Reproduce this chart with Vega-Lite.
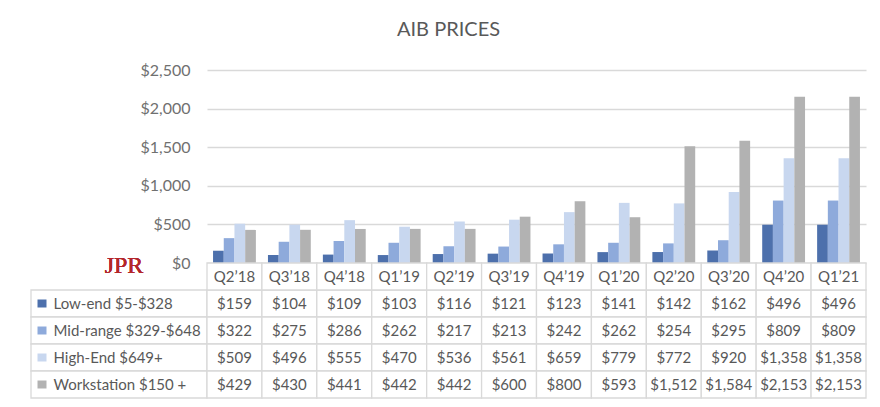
{
  "$schema": "https://vega.github.io/schema/vega-lite/v6.json",
  "padding": {"left": 30, "top": 20, "right": 10, "bottom": 5},
  "title": {
    "text": "AIB PRICES",
    "font": "Lato",
    "fontSize": 20,
    "fontWeight": "normal",
    "color": "#595959",
    "anchor": "middle",
    "offset": 22
  },
  "datasets": {
    "prices": [
      {"quarter": "Q2’18", "series": "Low-end $5-$328", "price": 159},
      {"quarter": "Q3’18", "series": "Low-end $5-$328", "price": 104},
      {"quarter": "Q4’18", "series": "Low-end $5-$328", "price": 109},
      {"quarter": "Q1’19", "series": "Low-end $5-$328", "price": 103},
      {"quarter": "Q2’19", "series": "Low-end $5-$328", "price": 116},
      {"quarter": "Q3’19", "series": "Low-end $5-$328", "price": 121},
      {"quarter": "Q4’19", "series": "Low-end $5-$328", "price": 123},
      {"quarter": "Q1’20", "series": "Low-end $5-$328", "price": 141},
      {"quarter": "Q2’20", "series": "Low-end $5-$328", "price": 142},
      {"quarter": "Q3’20", "series": "Low-end $5-$328", "price": 162},
      {"quarter": "Q4’20", "series": "Low-end $5-$328", "price": 496},
      {"quarter": "Q1’21", "series": "Low-end $5-$328", "price": 496},
      {"quarter": "Q2’18", "series": "Mid-range $329-$648", "price": 322},
      {"quarter": "Q3’18", "series": "Mid-range $329-$648", "price": 275},
      {"quarter": "Q4’18", "series": "Mid-range $329-$648", "price": 286},
      {"quarter": "Q1’19", "series": "Mid-range $329-$648", "price": 262},
      {"quarter": "Q2’19", "series": "Mid-range $329-$648", "price": 217},
      {"quarter": "Q3’19", "series": "Mid-range $329-$648", "price": 213},
      {"quarter": "Q4’19", "series": "Mid-range $329-$648", "price": 242},
      {"quarter": "Q1’20", "series": "Mid-range $329-$648", "price": 262},
      {"quarter": "Q2’20", "series": "Mid-range $329-$648", "price": 254},
      {"quarter": "Q3’20", "series": "Mid-range $329-$648", "price": 295},
      {"quarter": "Q4’20", "series": "Mid-range $329-$648", "price": 809},
      {"quarter": "Q1’21", "series": "Mid-range $329-$648", "price": 809},
      {"quarter": "Q2’18", "series": "High-End $649+", "price": 509},
      {"quarter": "Q3’18", "series": "High-End $649+", "price": 496},
      {"quarter": "Q4’18", "series": "High-End $649+", "price": 555},
      {"quarter": "Q1’19", "series": "High-End $649+", "price": 470},
      {"quarter": "Q2’19", "series": "High-End $649+", "price": 536},
      {"quarter": "Q3’19", "series": "High-End $649+", "price": 561},
      {"quarter": "Q4’19", "series": "High-End $649+", "price": 659},
      {"quarter": "Q1’20", "series": "High-End $649+", "price": 779},
      {"quarter": "Q2’20", "series": "High-End $649+", "price": 772},
      {"quarter": "Q3’20", "series": "High-End $649+", "price": 920},
      {"quarter": "Q4’20", "series": "High-End $649+", "price": 1358},
      {"quarter": "Q1’21", "series": "High-End $649+", "price": 1358},
      {"quarter": "Q2’18", "series": "Workstation $150 +", "price": 429},
      {"quarter": "Q3’18", "series": "Workstation $150 +", "price": 430},
      {"quarter": "Q4’18", "series": "Workstation $150 +", "price": 441},
      {"quarter": "Q1’19", "series": "Workstation $150 +", "price": 442},
      {"quarter": "Q2’19", "series": "Workstation $150 +", "price": 442},
      {"quarter": "Q3’19", "series": "Workstation $150 +", "price": 600},
      {"quarter": "Q4’19", "series": "Workstation $150 +", "price": 800},
      {"quarter": "Q1’20", "series": "Workstation $150 +", "price": 593},
      {"quarter": "Q2’20", "series": "Workstation $150 +", "price": 1512},
      {"quarter": "Q3’20", "series": "Workstation $150 +", "price": 1584},
      {"quarter": "Q4’20", "series": "Workstation $150 +", "price": 2153},
      {"quarter": "Q1’21", "series": "Workstation $150 +", "price": 2153}
    ]
  },
  "columns": 2,
  "spacing": 0,
  "bounds": "flush",
  "concat": [
    {
      "width": 176,
      "height": 193,
      "data": {"values": []},
      "mark": "point"
    },
    {
      "width": 659,
      "height": 193,
      "data": {"name": "prices"},
      "mark": {"type": "bar"},
      "encoding": {
        "x": {
          "field": "quarter",
          "type": "nominal",
          "sort": null,
          "scale": {"paddingInner": 0.22, "paddingOuter": 0.11},
          "axis": null
        },
        "xOffset": {
          "field": "series",
          "type": "nominal",
          "sort": null,
          "scale": {"paddingInner": 0, "paddingOuter": 0}
        },
        "y": {
          "field": "price",
          "type": "quantitative",
          "scale": {"domain": [0, 2500], "nice": false},
          "axis": {
            "title": null,
            "values": [0, 500, 1000, 1500, 2000, 2500],
            "format": "$,.0f",
            "labelFont": "Lato",
            "labelFontSize": 16,
            "labelColor": "#707070",
            "labelPadding": 17,
            "ticks": false,
            "domain": false,
            "gridColor": "#d9d9d9",
            "gridWidth": 1.3
          }
        },
        "color": {
          "field": "series",
          "type": "nominal",
          "sort": null,
          "scale": {
            "domain": ["Low-end $5-$328", "Mid-range $329-$648", "High-End $649+", "Workstation $150 +"],
            "range": ["#4d70ac", "#8eaadb", "#c8d7ef", "#b2b2b2"]
          },
          "legend": null
        }
      }
    },
    {
      "width": 176,
      "height": 135,
      "data": {"name": "prices"},
      "transform": [{"filter": "datum.quarter === 'Q2’18'"}],
      "encoding": {
        "y": {
          "field": "series",
          "type": "nominal",
          "scale": {
            "domain": ["Q", "Low-end $5-$328", "Mid-range $329-$648", "High-End $649+", "Workstation $150 +"],
            "paddingInner": 0,
            "paddingOuter": 0
          },
          "axis": {
            "title": null,
            "domain": false,
            "orient": "left",
            "offset": -6,
            "tickSize": -9,
            "tickWidth": 8,
            "tickCap": "butt",
            "tickColor": {
              "condition": [
                {"test": "datum.value === 'Low-end $5-$328'", "value": "#4d70ac"},
                {"test": "datum.value === 'Mid-range $329-$648'", "value": "#8eaadb"},
                {"test": "datum.value === 'High-End $649+'", "value": "#c8d7ef"},
                {"test": "datum.value === 'Workstation $150 +'", "value": "#b2b2b2"}
              ],
              "value": "transparent"
            },
            "labelExpr": "datum.value === 'Q' ? '' : datum.value",
            "labelAlign": "left",
            "labelPadding": -7,
            "labelFont": "Lato",
            "labelFontSize": 15,
            "labelColor": "#595959",
            "zindex": 1
          }
        }
      },
      "layer": [
        {
          "mark": {"type": "rect", "fill": "white", "stroke": "#d9d9d9", "strokeWidth": 1.3}
        },
        {
          "mark": {
            "type": "text",
            "text": "JPR",
            "font": "Liberation Serif",
            "fontSize": 24,
            "color": "#b3262b",
            "align": "center",
            "baseline": "middle",
            "dx": 5,
            "dy": -11
          },
          "encoding": {"y": {"datum": "Q", "type": "nominal"}}
        }
      ]
    },
    {
      "width": 659,
      "height": 135,
      "data": {"name": "prices"},
      "encoding": {
        "x": {
          "field": "quarter",
          "type": "nominal",
          "sort": null,
          "scale": {"paddingInner": 0, "paddingOuter": 0},
          "axis": null
        },
        "y": {
          "field": "series",
          "type": "nominal",
          "scale": {
            "domain": ["Q", "Low-end $5-$328", "Mid-range $329-$648", "High-End $649+", "Workstation $150 +"],
            "paddingInner": 0,
            "paddingOuter": 0
          },
          "axis": null
        }
      },
      "layer": [
        {
          "mark": {"type": "rect", "fill": "white", "stroke": "#d9d9d9", "strokeWidth": 1.3}
        },
        {
          "mark": {"type": "text", "font": "Lato", "fontSize": 15, "color": "#595959", "align": "center", "baseline": "middle"},
          "encoding": {
            "text": {"field": "price", "type": "quantitative", "format": "$,.0f"}
          }
        },
        {
          "transform": [{"filter": "datum.series === 'Low-end $5-$328'"}],
          "mark": {"type": "rect", "fill": "white", "stroke": "#d9d9d9", "strokeWidth": 1.3},
          "encoding": {"y": {"datum": "Q", "type": "nominal"}}
        },
        {
          "transform": [{"filter": "datum.series === 'Low-end $5-$328'"}],
          "mark": {"type": "text", "font": "Lato", "fontSize": 15, "color": "#595959", "align": "center", "baseline": "middle"},
          "encoding": {
            "y": {"datum": "Q", "type": "nominal"},
            "text": {"field": "quarter", "type": "nominal"}
          }
        }
      ]
    }
  ],
  "config": {
    "view": {"stroke": null}
  }
}
